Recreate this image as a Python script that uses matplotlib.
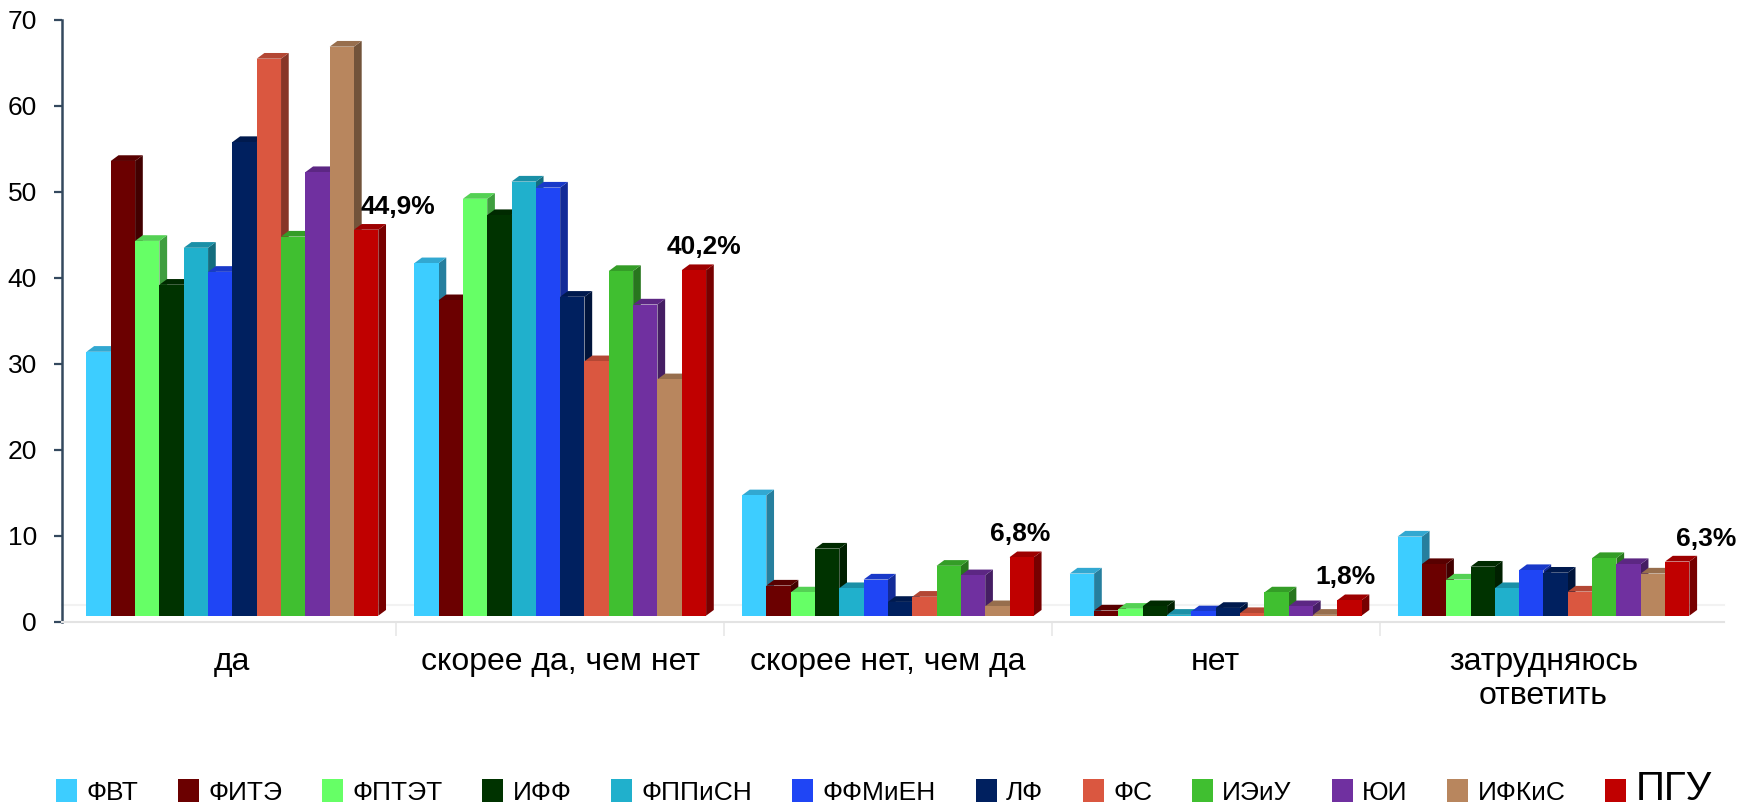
import matplotlib
matplotlib.use('Agg')
import matplotlib.pyplot as plt
from matplotlib.patches import Polygon, Patch
from matplotlib.colors import to_rgb
import matplotlib.transforms as mtransforms
import numpy as np

plt.rcParams['font.family'] = ['Liberation Sans', 'DejaVu Sans']

# ---------------- data ----------------
categories = ['да', 'скорее да, чем нет', 'скорее нет, чем да', 'нет', 'затрудняюсь\nответить']
series_names = ['ФВТ', 'ФИТЭ', 'ФПТЭТ', 'ИФФ', 'ФППиСН', 'ФФМиЕН', 'ЛФ', 'ФС',
                'ИЭиУ', 'ЮИ', 'ИФКиС', 'ПГУ']
fvt    = [30.7, 41.0, 14.0, 4.9, 9.2]
fite   = [52.9, 36.7, 3.5, 0.6, 6.0]
fptet  = [43.6, 48.5, 2.7, 0.8, 4.2]
iff    = [38.5, 46.6, 7.8, 1.1, 5.7]
fppisn = [42.8, 50.5, 3.2, 0.1, 3.2]
ffmien = [40.0, 49.8, 4.2, 0.5, 5.3]
lf     = [55.1, 37.1, 1.6, 0.9, 5.0]
fs     = [64.8, 29.6, 2.2, 0.3, 2.8]
ieiu   = [44.1, 40.1, 5.8, 2.7, 6.7]
yui    = [51.6, 36.2, 4.7, 1.1, 6.0]
ifkis  = [66.2, 27.5, 1.1, 0.1, 4.9]
pgu    = [44.9, 40.2, 6.8, 1.8, 6.3]
yticks = [0, 10, 20, 30, 40, 50, 60, 70]

series = [fvt, fite, fptet, iff, fppisn, ffmien, lf, fs, ieiu, yui, ifkis, pgu]

# ---------------- style ----------------
colors = ['#3DCDFF', '#6B0000', '#66FF66', '#003300', '#20B0CC', '#1F45F5',
          '#00205F', '#DA5740', '#40BF30', '#7030A0', '#B8865E', '#C00000']
label_shift_px = [32, 10, -2, -4, 29]

fig = plt.figure(figsize=(17.5, 8.06), dpi=100)
ax = fig.add_axes([0.0354, 0.2287, 0.9496, 0.7465])
ax.set_xlim(-0.52, 4.55)
ax.set_ylim(0, 70)

# convert 3D depth (pixels) into data units
fig.canvas.draw()
p0 = ax.transData.inverted().transform((0, 0))
p1 = ax.transData.inverted().transform((7.7, 5.7))
dx = p1[0] - p0[0]
dy = p1[1] - p0[1]

# bars stand on the middle of the 3D floor, a few pixels above the axis line
lift = mtransforms.offset_copy(ax.transData, fig=fig, x=0, y=6, units='dots')

n = len(series)
bw = 0.0742
x = np.arange(len(categories))

def shade(c, f):
    r, g, b = to_rgb(c)
    return (r * f, g * f, b * f)

pgu_pos = None
for i, (vals, col) in enumerate(zip(series, colors)):
    pos = x + (i - (n - 1) / 2) * bw
    rects = ax.bar(pos, vals, width=bw, color=col, linewidth=0, zorder=3 + 2 * i)
    for r in rects:
        r.set_transform(lift)
        x0, w, h = r.get_x(), r.get_width(), r.get_height()
        side = Polygon([(x0 + w, 0), (x0 + w + dx, dy), (x0 + w + dx, h + dy), (x0 + w, h)],
                       closed=True, facecolor=shade(col, 0.62), edgecolor='none',
                       zorder=2 + 2 * i, transform=lift)
        top = Polygon([(x0, h), (x0 + w, h), (x0 + w + dx, h + dy), (x0 + dx, h + dy)],
                      closed=True, facecolor=shade(col, 0.82), edgecolor='none',
                      zorder=2 + 2 * i, transform=lift)
        ax.add_patch(side)
        ax.add_patch(top)
    if i == n - 1:
        pgu_pos = pos

for k, v in enumerate(pgu):
    ax.annotate(f"{v:.1f}".replace('.', ',') + '%', xy=(pgu_pos[k], v), xycoords=lift,
                xytext=(label_shift_px[k], 23), textcoords='offset pixels',
                ha='center', va='center', fontsize=19, fontweight='bold',
                color='black', zorder=60)

# floor back edge
back = mtransforms.offset_copy(ax.transData, fig=fig, x=0, y=17, units='dots')
ax.plot([-0.52, 4.55], [0, 0], color='#F2F2F2', lw=1.5, transform=back, zorder=0, clip_on=False)

# axes styling
for s in ['top', 'right']:
    ax.spines[s].set_visible(False)
ax.spines['left'].set_color('#34495E')
ax.spines['left'].set_linewidth(1.8)
ax.spines['bottom'].set_color('#E3E3E3')
ax.spines['bottom'].set_linewidth(1.5)

ax.set_yticks(yticks)
ax.set_yticklabels([str(t) for t in yticks])
ax.tick_params(axis='y', length=6, width=1.6, color='#34495E', labelsize=19, pad=12,
               labelcolor='black')
ax.set_xticks(x)
ax.set_xticklabels(categories, fontsize=23)
ax.tick_params(axis='x', which='major', length=0, pad=18, labelcolor='black')
ax.set_xticks(x[:-1] + 0.5, minor=True)
ax.tick_params(axis='x', which='minor', length=10, width=1.2, color='#E8E8E8')

# legend, column spacing fitted to the reference span
handles = [Patch(facecolor=c, edgecolor='none') for c in colors]
leg_fs = 19
target_w = 1656.0

def make_legend(cs):
    lg = fig.legend(handles, series_names, loc='lower center', bbox_to_anchor=(0.505, -0.012),
                    ncol=12, frameon=False, fontsize=leg_fs,
                    handlelength=0.8, handleheight=0.95, handletextpad=0.35,
                    columnspacing=cs, borderaxespad=0.0, borderpad=0.3)
    lg.get_texts()[-1].set_fontsize(29)
    return lg

cs = 1.5
leg = make_legend(cs)
fig.canvas.draw()
w = leg.get_window_extent().width - 2 * 0.3 * leg_fs * 100 / 72
cs_new = cs + (target_w - w) / 11 / (leg_fs * 100 / 72)
leg.remove()
leg = make_legend(max(cs_new, 0.3))

fig.savefig('out.png', dpi=100)
